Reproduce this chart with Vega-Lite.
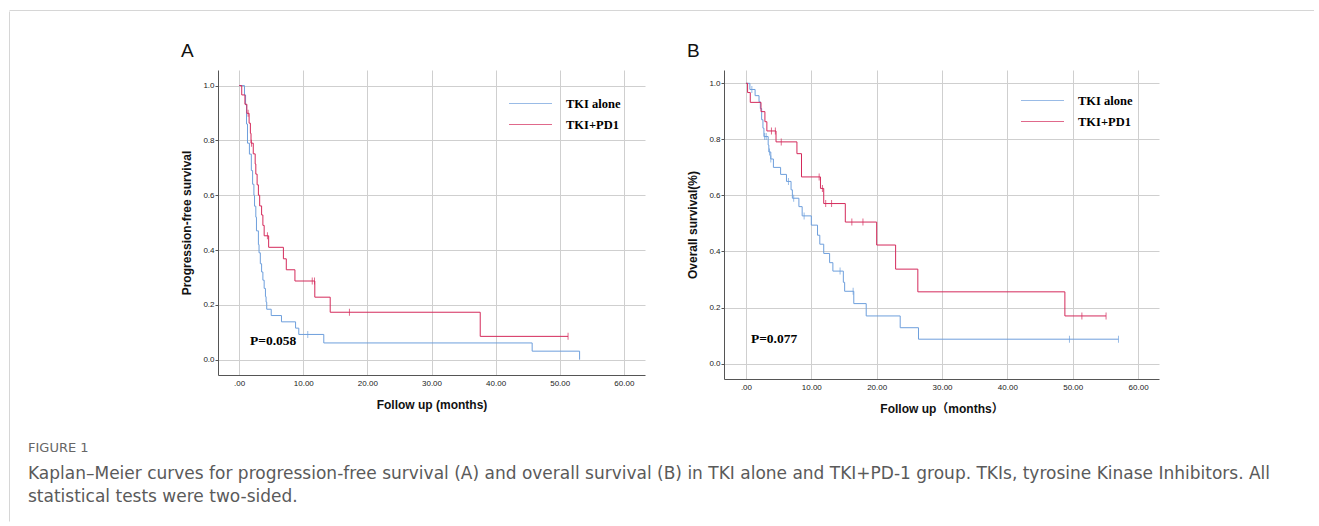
{
  "$schema": "https://vega.github.io/schema/vega-lite/v6.json",
  "background": "white",
  "padding": {"left": 9, "top": 10, "right": 0, "bottom": 0},
  "autosize": {"type": "pad"},
  "datasets": {
    "frame": [{"v": 0}],
    "pfs": [
      {"group": "TKI alone", "t": 0, "s": 1.0},
      {"group": "TKI alone", "t": 0.83, "s": 0.966},
      {"group": "TKI alone", "t": 1.0, "s": 0.93},
      {"group": "TKI alone", "t": 1.15, "s": 0.86},
      {"group": "TKI alone", "t": 1.3, "s": 0.79},
      {"group": "TKI alone", "t": 1.6, "s": 0.75},
      {"group": "TKI alone", "t": 1.9, "s": 0.69},
      {"group": "TKI alone", "t": 2.1, "s": 0.64},
      {"group": "TKI alone", "t": 2.3, "s": 0.6},
      {"group": "TKI alone", "t": 2.4, "s": 0.56},
      {"group": "TKI alone", "t": 2.6, "s": 0.52},
      {"group": "TKI alone", "t": 2.7, "s": 0.47},
      {"group": "TKI alone", "t": 3.0, "s": 0.42},
      {"group": "TKI alone", "t": 3.1, "s": 0.39},
      {"group": "TKI alone", "t": 3.3, "s": 0.35},
      {"group": "TKI alone", "t": 3.5, "s": 0.32},
      {"group": "TKI alone", "t": 3.7, "s": 0.29},
      {"group": "TKI alone", "t": 3.9, "s": 0.26},
      {"group": "TKI alone", "t": 4.1, "s": 0.23},
      {"group": "TKI alone", "t": 4.2, "s": 0.21},
      {"group": "TKI alone", "t": 4.3, "s": 0.184},
      {"group": "TKI alone", "t": 5.0, "s": 0.161},
      {"group": "TKI alone", "t": 6.6, "s": 0.138},
      {"group": "TKI alone", "t": 8.8, "s": 0.115},
      {"group": "TKI alone", "t": 9.3, "s": 0.092},
      {"group": "TKI alone", "t": 13.2, "s": 0.061},
      {"group": "TKI alone", "t": 45.7, "s": 0.031},
      {"group": "TKI alone", "t": 53.1, "s": 0.0},
      {"group": "TKI+PD1", "t": 0, "s": 1.0},
      {"group": "TKI+PD1", "t": 0.4, "s": 0.966},
      {"group": "TKI+PD1", "t": 0.9, "s": 0.932},
      {"group": "TKI+PD1", "t": 1.2, "s": 0.899},
      {"group": "TKI+PD1", "t": 1.55, "s": 0.863},
      {"group": "TKI+PD1", "t": 1.75, "s": 0.826},
      {"group": "TKI+PD1", "t": 1.85, "s": 0.79},
      {"group": "TKI+PD1", "t": 2.2, "s": 0.751},
      {"group": "TKI+PD1", "t": 2.5, "s": 0.714},
      {"group": "TKI+PD1", "t": 2.6, "s": 0.677},
      {"group": "TKI+PD1", "t": 2.8, "s": 0.638},
      {"group": "TKI+PD1", "t": 3.0, "s": 0.6},
      {"group": "TKI+PD1", "t": 3.2, "s": 0.561},
      {"group": "TKI+PD1", "t": 3.5, "s": 0.528},
      {"group": "TKI+PD1", "t": 3.7, "s": 0.49},
      {"group": "TKI+PD1", "t": 3.9, "s": 0.452},
      {"group": "TKI+PD1", "t": 4.6, "s": 0.41},
      {"group": "TKI+PD1", "t": 6.9, "s": 0.368},
      {"group": "TKI+PD1", "t": 7.35, "s": 0.328},
      {"group": "TKI+PD1", "t": 8.7, "s": 0.287},
      {"group": "TKI+PD1", "t": 11.8, "s": 0.228},
      {"group": "TKI+PD1", "t": 14.2, "s": 0.173},
      {"group": "TKI+PD1", "t": 37.6, "s": 0.085},
      {"group": "TKI+PD1", "t": 51.3, "s": 0.085}
    ],
    "pfsCens": [
      {"group": "TKI alone", "t": 10.7, "s": 0.092},
      {"group": "TKI+PD1", "t": 1.4, "s": 0.899},
      {"group": "TKI+PD1", "t": 1.92, "s": 0.79},
      {"group": "TKI+PD1", "t": 4.41, "s": 0.452},
      {"group": "TKI+PD1", "t": 11.4, "s": 0.287},
      {"group": "TKI+PD1", "t": 11.75, "s": 0.287},
      {"group": "TKI+PD1", "t": 17.2, "s": 0.173},
      {"group": "TKI+PD1", "t": 51.3, "s": 0.085}
    ],
    "os": [
      {"group": "TKI alone", "t": 0, "s": 1.0},
      {"group": "TKI alone", "t": 0.6, "s": 0.978},
      {"group": "TKI alone", "t": 1.4, "s": 0.956},
      {"group": "TKI alone", "t": 2.0, "s": 0.934},
      {"group": "TKI alone", "t": 2.2, "s": 0.91},
      {"group": "TKI alone", "t": 2.4, "s": 0.87},
      {"group": "TKI alone", "t": 2.6, "s": 0.84},
      {"group": "TKI alone", "t": 2.75, "s": 0.81},
      {"group": "TKI alone", "t": 3.4, "s": 0.78},
      {"group": "TKI alone", "t": 3.5, "s": 0.755},
      {"group": "TKI alone", "t": 3.8, "s": 0.73},
      {"group": "TKI alone", "t": 4.2, "s": 0.7},
      {"group": "TKI alone", "t": 5.3, "s": 0.675},
      {"group": "TKI alone", "t": 6.2, "s": 0.65},
      {"group": "TKI alone", "t": 6.9, "s": 0.62},
      {"group": "TKI alone", "t": 7.1, "s": 0.59},
      {"group": "TKI alone", "t": 8.1, "s": 0.56},
      {"group": "TKI alone", "t": 8.6, "s": 0.527},
      {"group": "TKI alone", "t": 10.0, "s": 0.494},
      {"group": "TKI alone", "t": 10.95, "s": 0.458},
      {"group": "TKI alone", "t": 11.3, "s": 0.426},
      {"group": "TKI alone", "t": 11.9, "s": 0.393},
      {"group": "TKI alone", "t": 12.8, "s": 0.36},
      {"group": "TKI alone", "t": 13.3, "s": 0.33},
      {"group": "TKI alone", "t": 14.9, "s": 0.29},
      {"group": "TKI alone", "t": 15.1, "s": 0.258},
      {"group": "TKI alone", "t": 16.5, "s": 0.214},
      {"group": "TKI alone", "t": 18.4, "s": 0.17},
      {"group": "TKI alone", "t": 23.6, "s": 0.128},
      {"group": "TKI alone", "t": 26.4, "s": 0.087},
      {"group": "TKI alone", "t": 57.0, "s": 0.087},
      {"group": "TKI+PD1", "t": 0, "s": 1.0},
      {"group": "TKI+PD1", "t": 0.25, "s": 0.967},
      {"group": "TKI+PD1", "t": 0.66, "s": 0.932},
      {"group": "TKI+PD1", "t": 2.3, "s": 0.899},
      {"group": "TKI+PD1", "t": 2.9, "s": 0.863},
      {"group": "TKI+PD1", "t": 3.2, "s": 0.83},
      {"group": "TKI+PD1", "t": 4.6, "s": 0.791},
      {"group": "TKI+PD1", "t": 7.8, "s": 0.749},
      {"group": "TKI+PD1", "t": 8.5, "s": 0.666},
      {"group": "TKI+PD1", "t": 11.4, "s": 0.625},
      {"group": "TKI+PD1", "t": 11.9, "s": 0.571},
      {"group": "TKI+PD1", "t": 15.2, "s": 0.505},
      {"group": "TKI+PD1", "t": 20.0, "s": 0.423},
      {"group": "TKI+PD1", "t": 22.9, "s": 0.337},
      {"group": "TKI+PD1", "t": 26.3, "s": 0.256},
      {"group": "TKI+PD1", "t": 48.8, "s": 0.17},
      {"group": "TKI+PD1", "t": 55.1, "s": 0.17}
    ],
    "osCens": [
      {"group": "TKI alone", "t": 0.9, "s": 0.978},
      {"group": "TKI alone", "t": 2.85, "s": 0.81},
      {"group": "TKI alone", "t": 3.1, "s": 0.81},
      {"group": "TKI alone", "t": 3.6, "s": 0.755},
      {"group": "TKI alone", "t": 3.8, "s": 0.73},
      {"group": "TKI alone", "t": 6.5, "s": 0.65},
      {"group": "TKI alone", "t": 7.3, "s": 0.59},
      {"group": "TKI alone", "t": 8.9, "s": 0.527},
      {"group": "TKI alone", "t": 14.4, "s": 0.33},
      {"group": "TKI alone", "t": 16.4, "s": 0.258},
      {"group": "TKI alone", "t": 49.5, "s": 0.087},
      {"group": "TKI alone", "t": 57.0, "s": 0.087},
      {"group": "TKI+PD1", "t": 3.9, "s": 0.83},
      {"group": "TKI+PD1", "t": 4.5, "s": 0.83},
      {"group": "TKI+PD1", "t": 5.4, "s": 0.791},
      {"group": "TKI+PD1", "t": 11.2, "s": 0.666},
      {"group": "TKI+PD1", "t": 11.7, "s": 0.625},
      {"group": "TKI+PD1", "t": 12.2, "s": 0.571},
      {"group": "TKI+PD1", "t": 13.1, "s": 0.571},
      {"group": "TKI+PD1", "t": 16.2, "s": 0.505},
      {"group": "TKI+PD1", "t": 17.9, "s": 0.505},
      {"group": "TKI+PD1", "t": 51.4, "s": 0.17},
      {"group": "TKI+PD1", "t": 55.1, "s": 0.17}
    ],
    "notes": [
      {"panel": "A", "label": "P=0.058", "t": 1.7, "s": 0.067},
      {"panel": "B", "label": "P=0.077", "t": 0.76, "s": 0.089}
    ]
  },
  "spacing": 0,
  "vconcat": [
    {
      "width": 1305,
      "height": 31.5,
      "data": {"name": "frame"},
      "mark": {"type": "rule", "opacity": 0},
      "encoding": {
        "x": {"field": "v", "type": "quantitative",
          "axis": {"orient": "top", "domain": true, "domainColor": "#d6d6d6", "domainWidth": 1, "ticks": false, "labels": false, "grid": false, "title": null, "minExtent": 0, "maxExtent": 0}}
      }
    },
    {
      "spacing": 18,
      "hconcat": [
        {
          "width": 1,
          "height": 451,
          "data": {"name": "frame"},
          "mark": {"type": "rule", "opacity": 0},
          "encoding": {
            "y": {"field": "v", "type": "quantitative", "scale": {"range": [451, -59]},
              "axis": {"orient": "left", "domain": true, "domainColor": "#d6d6d6", "domainWidth": 1, "ticks": false, "labels": false, "grid": false, "title": null, "minExtent": 0, "maxExtent": 0}}
          }
        },
        {
          "title": {
            "text": "FIGURE 1",
            "subtitle": [
              "Kaplan–Meier curves for progression-free survival (A) and overall survival (B) in TKI alone and TKI+PD-1 group. TKIs, tyrosine Kinase Inhibitors. All",
              "statistical tests were two-sided."
            ],
            "orient": "bottom",
            "anchor": "start",
            "frame": "group",
            "dx": -190,
            "offset": 27,
            "font": "DejaVu Sans",
            "fontSize": 13,
            "fontWeight": "normal",
            "color": "#666666",
            "subtitleFont": "DejaVu Sans",
            "subtitleFontSize": 17,
            "subtitleColor": "#5a5a5a",
            "subtitleLineHeight": 23,
            "subtitlePadding": 11
          },
          "spacing": 41,
          "resolve": {"scale": {"color": "independent"}, "legend": {"color": "independent"}},
          "hconcat": [
            {
              "title": {"text": "A", "anchor": "start", "frame": "bounds", "font": "Liberation Sans", "fontSize": 19, "fontWeight": "normal", "color": "#111111", "offset": 9},
              "width": 427,
              "height": 305,
              "layer": [
                {
                  "data": {"name": "pfs"},
                  "mark": {"type": "line", "interpolate": "step-after", "strokeWidth": 1},
                  "encoding": {
                    "x": {"field": "t", "type": "quantitative", "scale": {"domain": [-3.3, 63.3], "nice": false, "zero": false},
                      "axis": {"values": [0, 10, 20, 30, 40, 50, 60], "labelExpr": "datum.value == 0 ? '.00' : format(datum.value, '.2f')", "title": "Follow up (months)", "tickSize": 0, "labelPadding": 4, "titlePadding": 12}},
                    "y": {"field": "s", "type": "quantitative", "scale": {"domain": [-0.056, 1.057], "nice": false, "zero": false},
                      "axis": {"values": [0, 0.2, 0.4, 0.6, 0.8, 1.0], "format": ".1f", "title": "Progression-free survival", "tickSize": 3, "labelPadding": 1, "titlePadding": 9}},
                    "color": {"field": "group", "type": "nominal", "scale": {"domain": ["TKI alone", "TKI+PD1"], "range": ["#6e9fdc", "#d42a5b"]},
                      "legend": {"orient": "none", "legendX": 302, "legendY": 23, "title": null, "symbolType": "M-2.15,0H2.15", "symbolSize": 400, "symbolStrokeWidth": 1, "labelFont": "Liberation Serif", "labelFontWeight": "bold", "labelFontSize": 12.5, "labelColor": "#000000", "labelOffset": 25, "rowPadding": 4, "padding": 0}}
                  }
                },
                {
                  "data": {"name": "pfsCens"},
                  "mark": {"type": "tick", "orient": "vertical", "size": 7, "thickness": 1},
                  "encoding": {
                    "x": {"field": "t", "type": "quantitative", "scale": {"domain": [-3.3, 63.3], "nice": false, "zero": false}},
                    "y": {"field": "s", "type": "quantitative", "scale": {"domain": [-0.056, 1.057], "nice": false, "zero": false}},
                    "color": {"field": "group", "type": "nominal", "scale": {"domain": ["TKI alone", "TKI+PD1"], "range": ["#6e9fdc", "#d42a5b"]}}
                  }
                },
                {
                  "data": {"name": "notes"},
                  "transform": [{"filter": "datum.panel == 'A'"}],
                  "mark": {"type": "text", "font": "Liberation Serif", "fontWeight": "bold", "fontSize": 13.5, "align": "left", "baseline": "middle", "color": "#000000"},
                  "encoding": {
                    "x": {"field": "t", "type": "quantitative", "scale": {"domain": [-3.3, 63.3], "nice": false, "zero": false}},
                    "y": {"field": "s", "type": "quantitative", "scale": {"domain": [-0.056, 1.057], "nice": false, "zero": false}},
                    "text": {"field": "label"}
                  }
                }
              ]
            },
            {
              "title": {"text": "B", "anchor": "start", "frame": "bounds", "font": "Liberation Sans", "fontSize": 19, "fontWeight": "normal", "color": "#111111", "offset": 9},
              "width": 435,
              "height": 309,
              "layer": [
                {
                  "data": {"name": "os"},
                  "mark": {"type": "line", "interpolate": "step-after", "strokeWidth": 1},
                  "encoding": {
                    "x": {"field": "t", "type": "quantitative", "scale": {"domain": [-3.36, 63.2], "nice": false, "zero": false},
                      "axis": {"values": [0, 10, 20, 30, 40, 50, 60], "labelExpr": "datum.value == 0 ? '.00' : format(datum.value, '.2f')", "title": "Follow up（months）", "tickSize": 0, "labelPadding": 4.5, "titlePadding": 12}},
                    "y": {"field": "s", "type": "quantitative", "scale": {"domain": [-0.055, 1.0475], "nice": false, "zero": false},
                      "axis": {"values": [0, 0.2, 0.4, 0.6, 0.8, 1.0], "format": ".1f", "title": "Overall survival(%)", "tickSize": 3, "labelPadding": 1, "titlePadding": 9}},
                    "color": {"field": "group", "type": "nominal", "scale": {"domain": ["TKI alone", "TKI+PD1"], "range": ["#6e9fdc", "#d42a5b"]},
                      "legend": {"orient": "none", "legendX": 308, "legendY": 20, "title": null, "symbolType": "M-2.15,0H2.15", "symbolSize": 400, "symbolStrokeWidth": 1, "labelFont": "Liberation Serif", "labelFontWeight": "bold", "labelFontSize": 12.5, "labelColor": "#000000", "labelOffset": 25, "rowPadding": 4, "padding": 0}}
                  }
                },
                {
                  "data": {"name": "osCens"},
                  "mark": {"type": "tick", "orient": "vertical", "size": 7, "thickness": 1},
                  "encoding": {
                    "x": {"field": "t", "type": "quantitative", "scale": {"domain": [-3.36, 63.2], "nice": false, "zero": false}},
                    "y": {"field": "s", "type": "quantitative", "scale": {"domain": [-0.055, 1.0475], "nice": false, "zero": false}},
                    "color": {"field": "group", "type": "nominal", "scale": {"domain": ["TKI alone", "TKI+PD1"], "range": ["#6e9fdc", "#d42a5b"]}}
                  }
                },
                {
                  "data": {"name": "notes"},
                  "transform": [{"filter": "datum.panel == 'B'"}],
                  "mark": {"type": "text", "font": "Liberation Serif", "fontWeight": "bold", "fontSize": 13.5, "align": "left", "baseline": "middle", "color": "#000000"},
                  "encoding": {
                    "x": {"field": "t", "type": "quantitative", "scale": {"domain": [-3.36, 63.2], "nice": false, "zero": false}},
                    "y": {"field": "s", "type": "quantitative", "scale": {"domain": [-0.055, 1.0475], "nice": false, "zero": false}},
                    "text": {"field": "label"}
                  }
                }
              ]
            }
          ]
        }
      ]
    }
  ],
  "config": {
    "view": {"stroke": null},
    "axis": {
      "grid": true,
      "gridColor": "#cfcfcf",
      "gridWidth": 1,
      "domainColor": "#555555",
      "tickColor": "#555555",
      "labelFont": "Liberation Sans",
      "labelFontSize": 8,
      "labelColor": "#222222",
      "titleFont": "Liberation Sans, Noto Sans CJK SC",
      "titleFontWeight": "bold",
      "titleFontSize": 12,
      "titleColor": "#111111"
    }
  }
}
